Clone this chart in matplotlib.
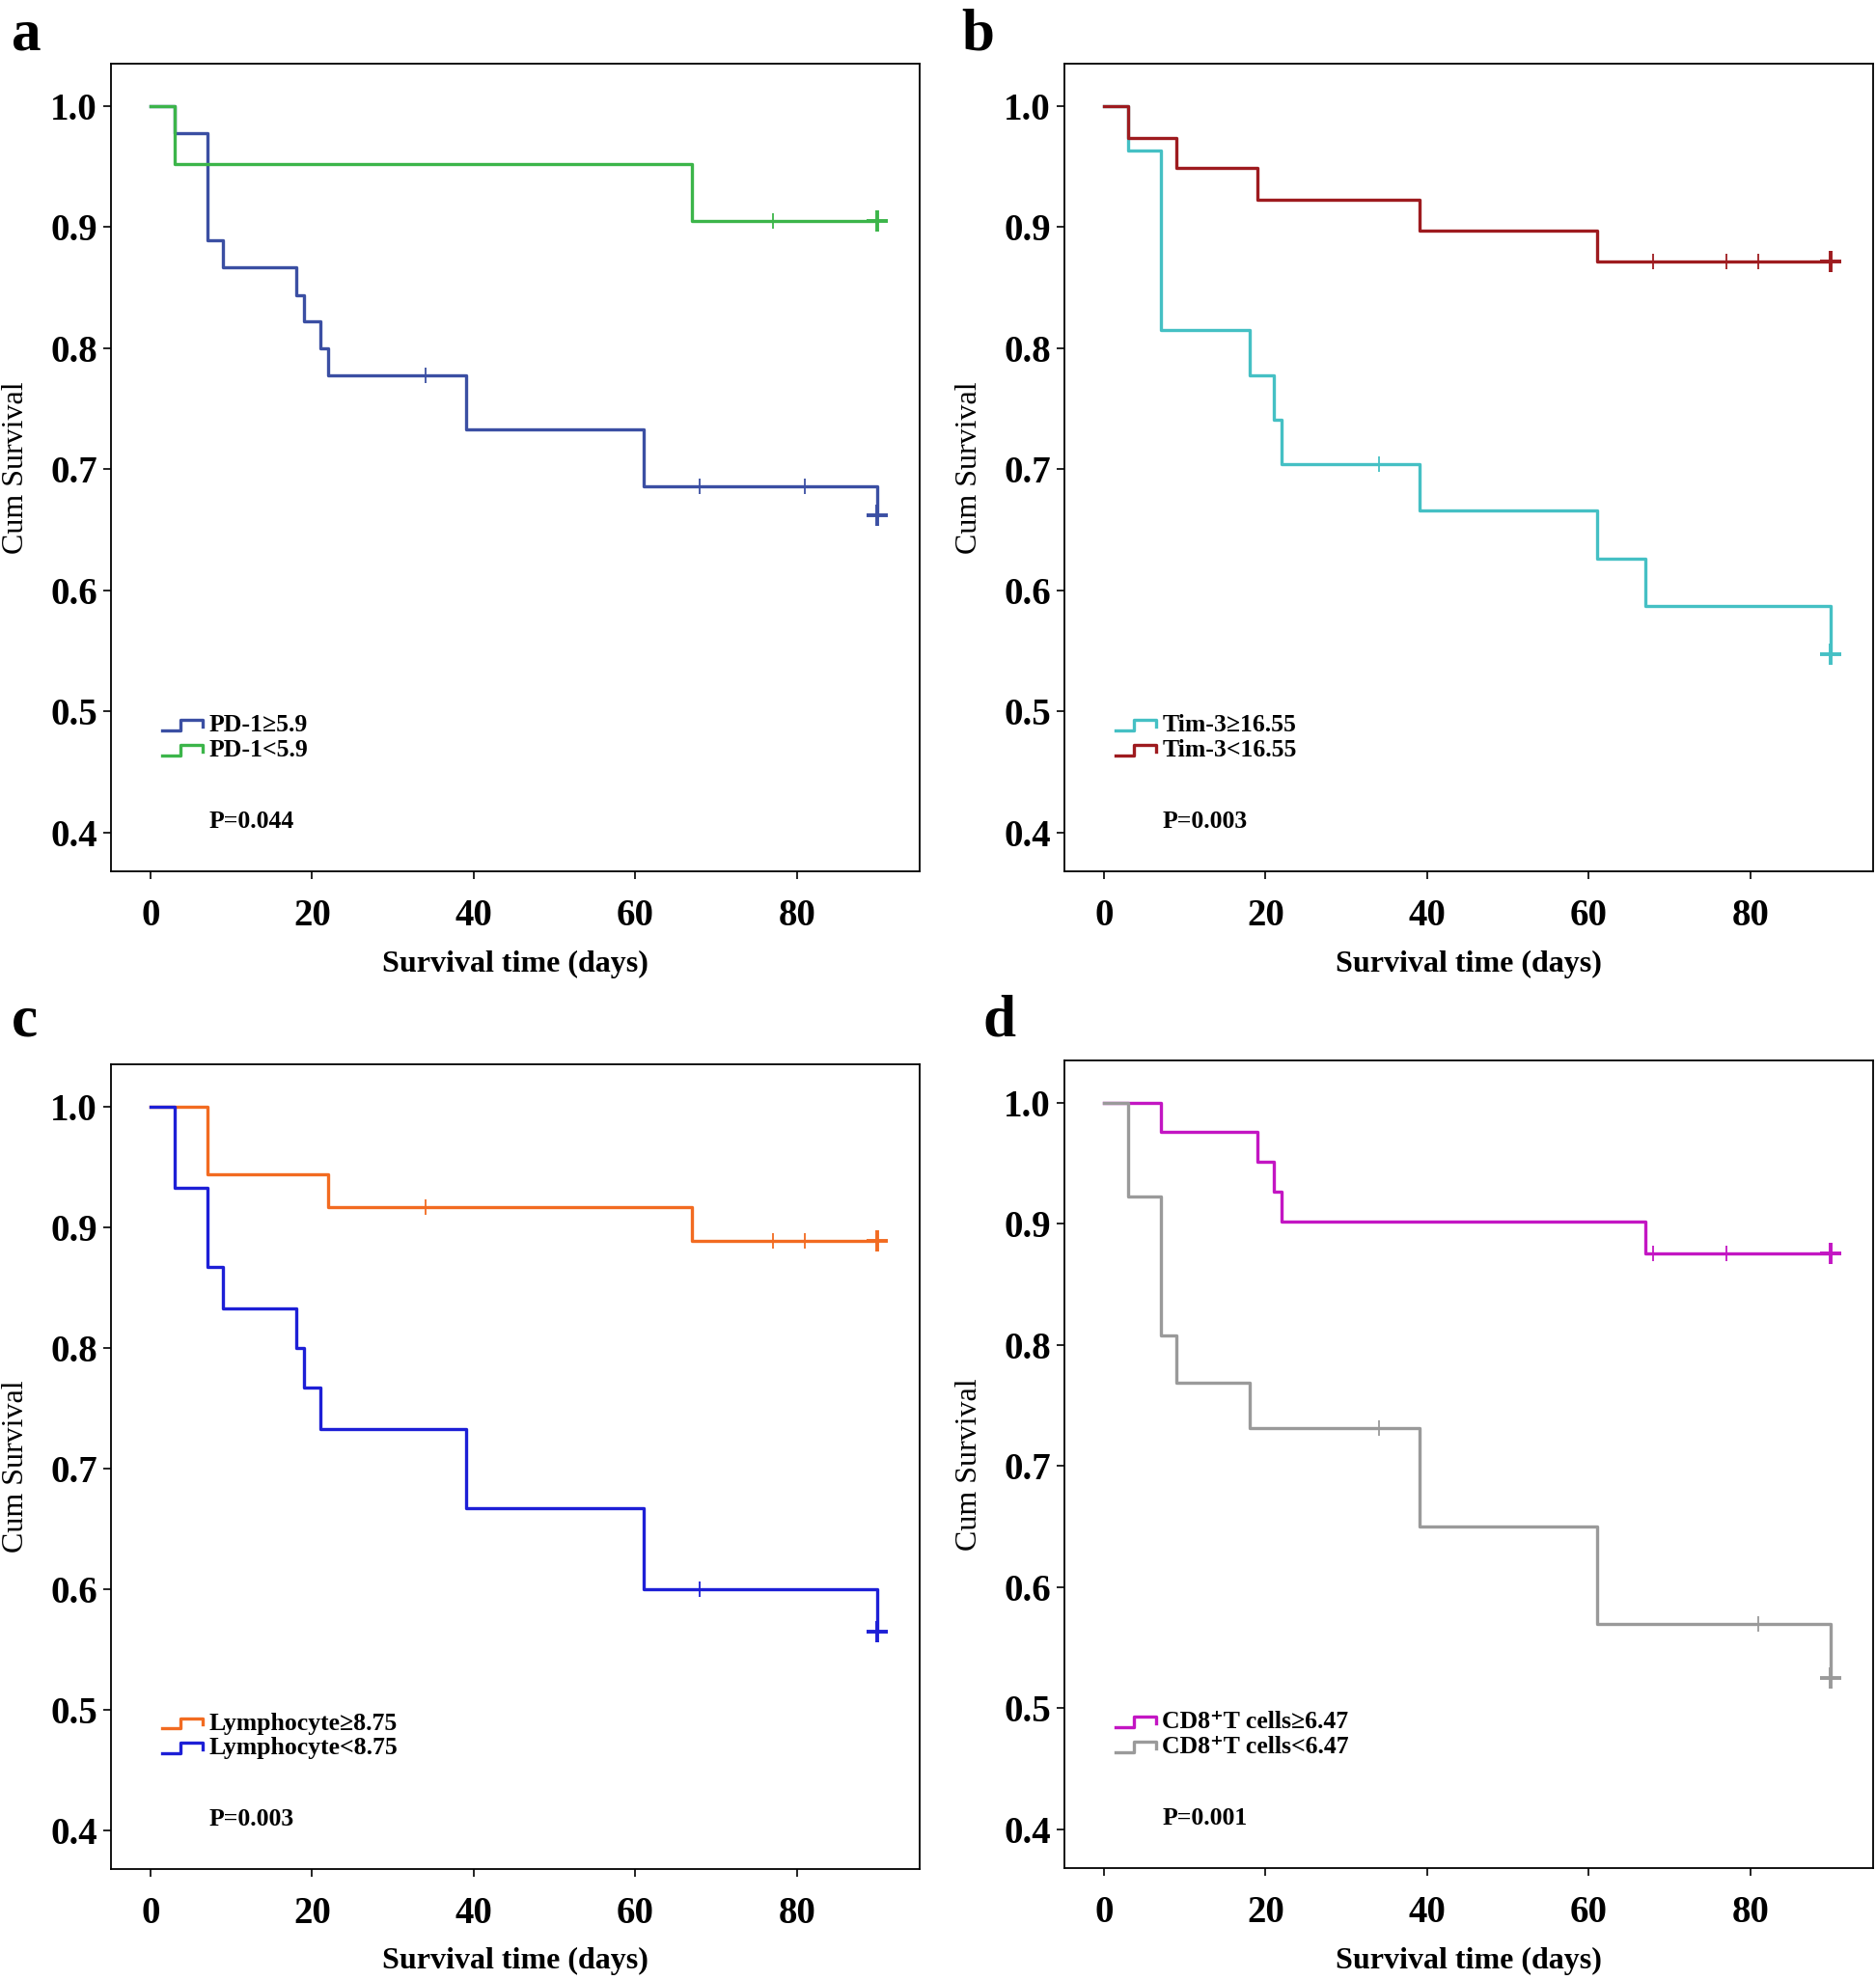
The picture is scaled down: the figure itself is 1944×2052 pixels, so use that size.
import numpy as np
import matplotlib
matplotlib.use("Agg")
import matplotlib.pyplot as plt

plt.rcParams['font.family'] = ['Liberation Serif', 'DejaVu Serif']

# ---- data (time in days, cumulative survival) ----
a_hi_t = [0, 3, 7, 9, 18, 19, 21, 22, 39, 61, 90]
a_hi_s = [1.0, 0.978, 0.889, 0.867, 0.844, 0.822, 0.800, 0.778, 0.733, 0.686, 0.662]
a_hi_c = [34, 68, 81, 90]
a_lo_t = [0, 3, 67, 90]
a_lo_s = [1.0, 0.952, 0.905, 0.905]
a_lo_c = [77, 90]

b_hi_t = [0, 3, 7, 18, 21, 22, 39, 61, 67, 90]
b_hi_s = [1.0, 0.963, 0.815, 0.778, 0.741, 0.704, 0.666, 0.626, 0.587, 0.547]
b_hi_c = [34, 90]
b_lo_t = [0, 3, 9, 19, 39, 61, 90]
b_lo_s = [1.0, 0.974, 0.949, 0.923, 0.897, 0.872, 0.872]
b_lo_c = [68, 77, 81, 90]

c_hi_t = [0, 7, 22, 67, 90]
c_hi_s = [1.0, 0.944, 0.917, 0.889, 0.889]
c_hi_c = [34, 77, 81, 90]
c_lo_t = [0, 3, 7, 9, 18, 19, 21, 39, 61, 90]
c_lo_s = [1.0, 0.933, 0.867, 0.833, 0.800, 0.767, 0.733, 0.667, 0.600, 0.565]
c_lo_c = [68, 90]

d_hi_t = [0, 7, 19, 21, 22, 67, 90]
d_hi_s = [1.0, 0.976, 0.951, 0.927, 0.902, 0.876, 0.876]
d_hi_c = [68, 77, 90]
d_lo_t = [0, 3, 7, 9, 18, 39, 61, 90]
d_lo_s = [1.0, 0.923, 0.808, 0.769, 0.731, 0.650, 0.570, 0.525]
d_lo_c = [34, 81, 90]

panels = [
    ('a', [(a_hi_t, a_hi_s, a_hi_c, '#3b4fa3', 'PD-1≥5.9'),
           (a_lo_t, a_lo_s, a_lo_c, '#3cb54a', 'PD-1<5.9')], 'P=0.044'),
    ('b', [(b_hi_t, b_hi_s, b_hi_c, '#45c0c4', 'Tim-3≥16.55'),
           (b_lo_t, b_lo_s, b_lo_c, '#9e1b1f', 'Tim-3<16.55')], 'P=0.003'),
    ('c', [(c_hi_t, c_hi_s, c_hi_c, '#f26b21', 'Lymphocyte≥8.75'),
           (c_lo_t, c_lo_s, c_lo_c, '#1d1fd6', 'Lymphocyte<8.75')], 'P=0.003'),
    ('d', [(d_hi_t, d_hi_s, d_hi_c, '#c316c3', 'CD8⁺T cells≥6.47'),
           (d_lo_t, d_lo_s, d_lo_c, '#9a9a9a', 'CD8⁺T cells<6.47')], 'P=0.001'),
]

W, H = 1944, 2052
fig = plt.figure(figsize=(W / 100, H / 100), dpi=100)

# axes boxes in pixels: left, top, right, bottom
boxes = [(115, 66, 953, 903), (1103, 66, 1941, 903),
         (115, 1103, 953, 1937), (1103, 1099, 1941, 1936)]
letter_pos = [(12, 8), (996, 8), (12, 1030), (1018, 1030)]


def surv_at(t, s, x):
    i = np.searchsorted(t, x, side='right') - 1
    return s[i]


for (letter, series, ptxt), (l, t, r, b), (lx, ly) in zip(panels, boxes, letter_pos):
    ax = fig.add_axes([l / W, 1 - b / H, (r - l) / W, (b - t) / H])
    for tt, ss, cc, col, lab in series:
        tt = np.array(tt)
        ss = np.array(ss)
        ax.step(tt, ss, where='post', color=col, lw=2.4)
        cy = [surv_at(tt, ss, x) for x in cc]
        ax.plot(cc[:-1], cy[:-1], ls='none', marker='+', ms=12, mew=1.3, color=col)
        ax.plot(cc[-1:], cy[-1:], ls='none', marker='+', ms=16, mew=2.8, color=col)

    ax.set_xlim(-4.9, 95.2)
    ax.set_ylim(0.368, 1.035)
    ax.set_xticks([0, 20, 40, 60, 80])
    ax.set_yticks([0.4, 0.5, 0.6, 0.7, 0.8, 0.9, 1.0])
    ax.set_yticklabels(['0.4', '0.5', '0.6', '0.7', '0.8', '0.9', '1.0'])
    ax.tick_params(axis='y', length=6, width=1.2, pad=4, labelsize=28)
    ax.tick_params(axis='x', length=6, width=1.2, pad=14, labelsize=28)
    for lbl in ax.get_xticklabels() + ax.get_yticklabels():
        lbl.set_fontweight('bold')
    for sp in ax.spines.values():
        sp.set_linewidth(1.3)

    ax.set_xlabel('Survival time (days)', fontsize=23, fontweight='bold')
    ax.xaxis.label.set_va('center')
    ax.xaxis.set_label_coords(0.5, -0.115)
    ax.set_ylabel('Cum Survival', fontsize=23)
    ax.yaxis.label.set_va('center')
    ax.yaxis.set_label_coords(-0.118, 0.5)

    # legend drawn like the SPSS step glyphs
    hx0, hx1, hh = 0.063, 0.113, 0.013
    for (tt, ss, cc, col, lab), ry in zip(series, [0.181, 0.150]):
        xs = hx0 + (hx1 - hx0) * np.array([0, 0.45, 0.45, 1, 1])
        ys = ry + hh * np.array([-0.5, -0.5, 0.5, 0.5, -0.1])
        ax.plot(xs, ys, color=col, lw=2.4, transform=ax.transAxes, clip_on=False)
        ax.text(0.121, ry, lab, transform=ax.transAxes, fontsize=18.5,
                fontweight='bold', va='center', ha='left')
    ax.text(0.121, 0.062, ptxt, transform=ax.transAxes, fontsize=18.5,
            fontweight='bold', va='center', ha='left')

    fig.text(lx / W, 1 - ly / H, letter, fontsize=44, fontweight='bold',
             va='top', ha='left')

fig.savefig('out.png', dpi=100)
